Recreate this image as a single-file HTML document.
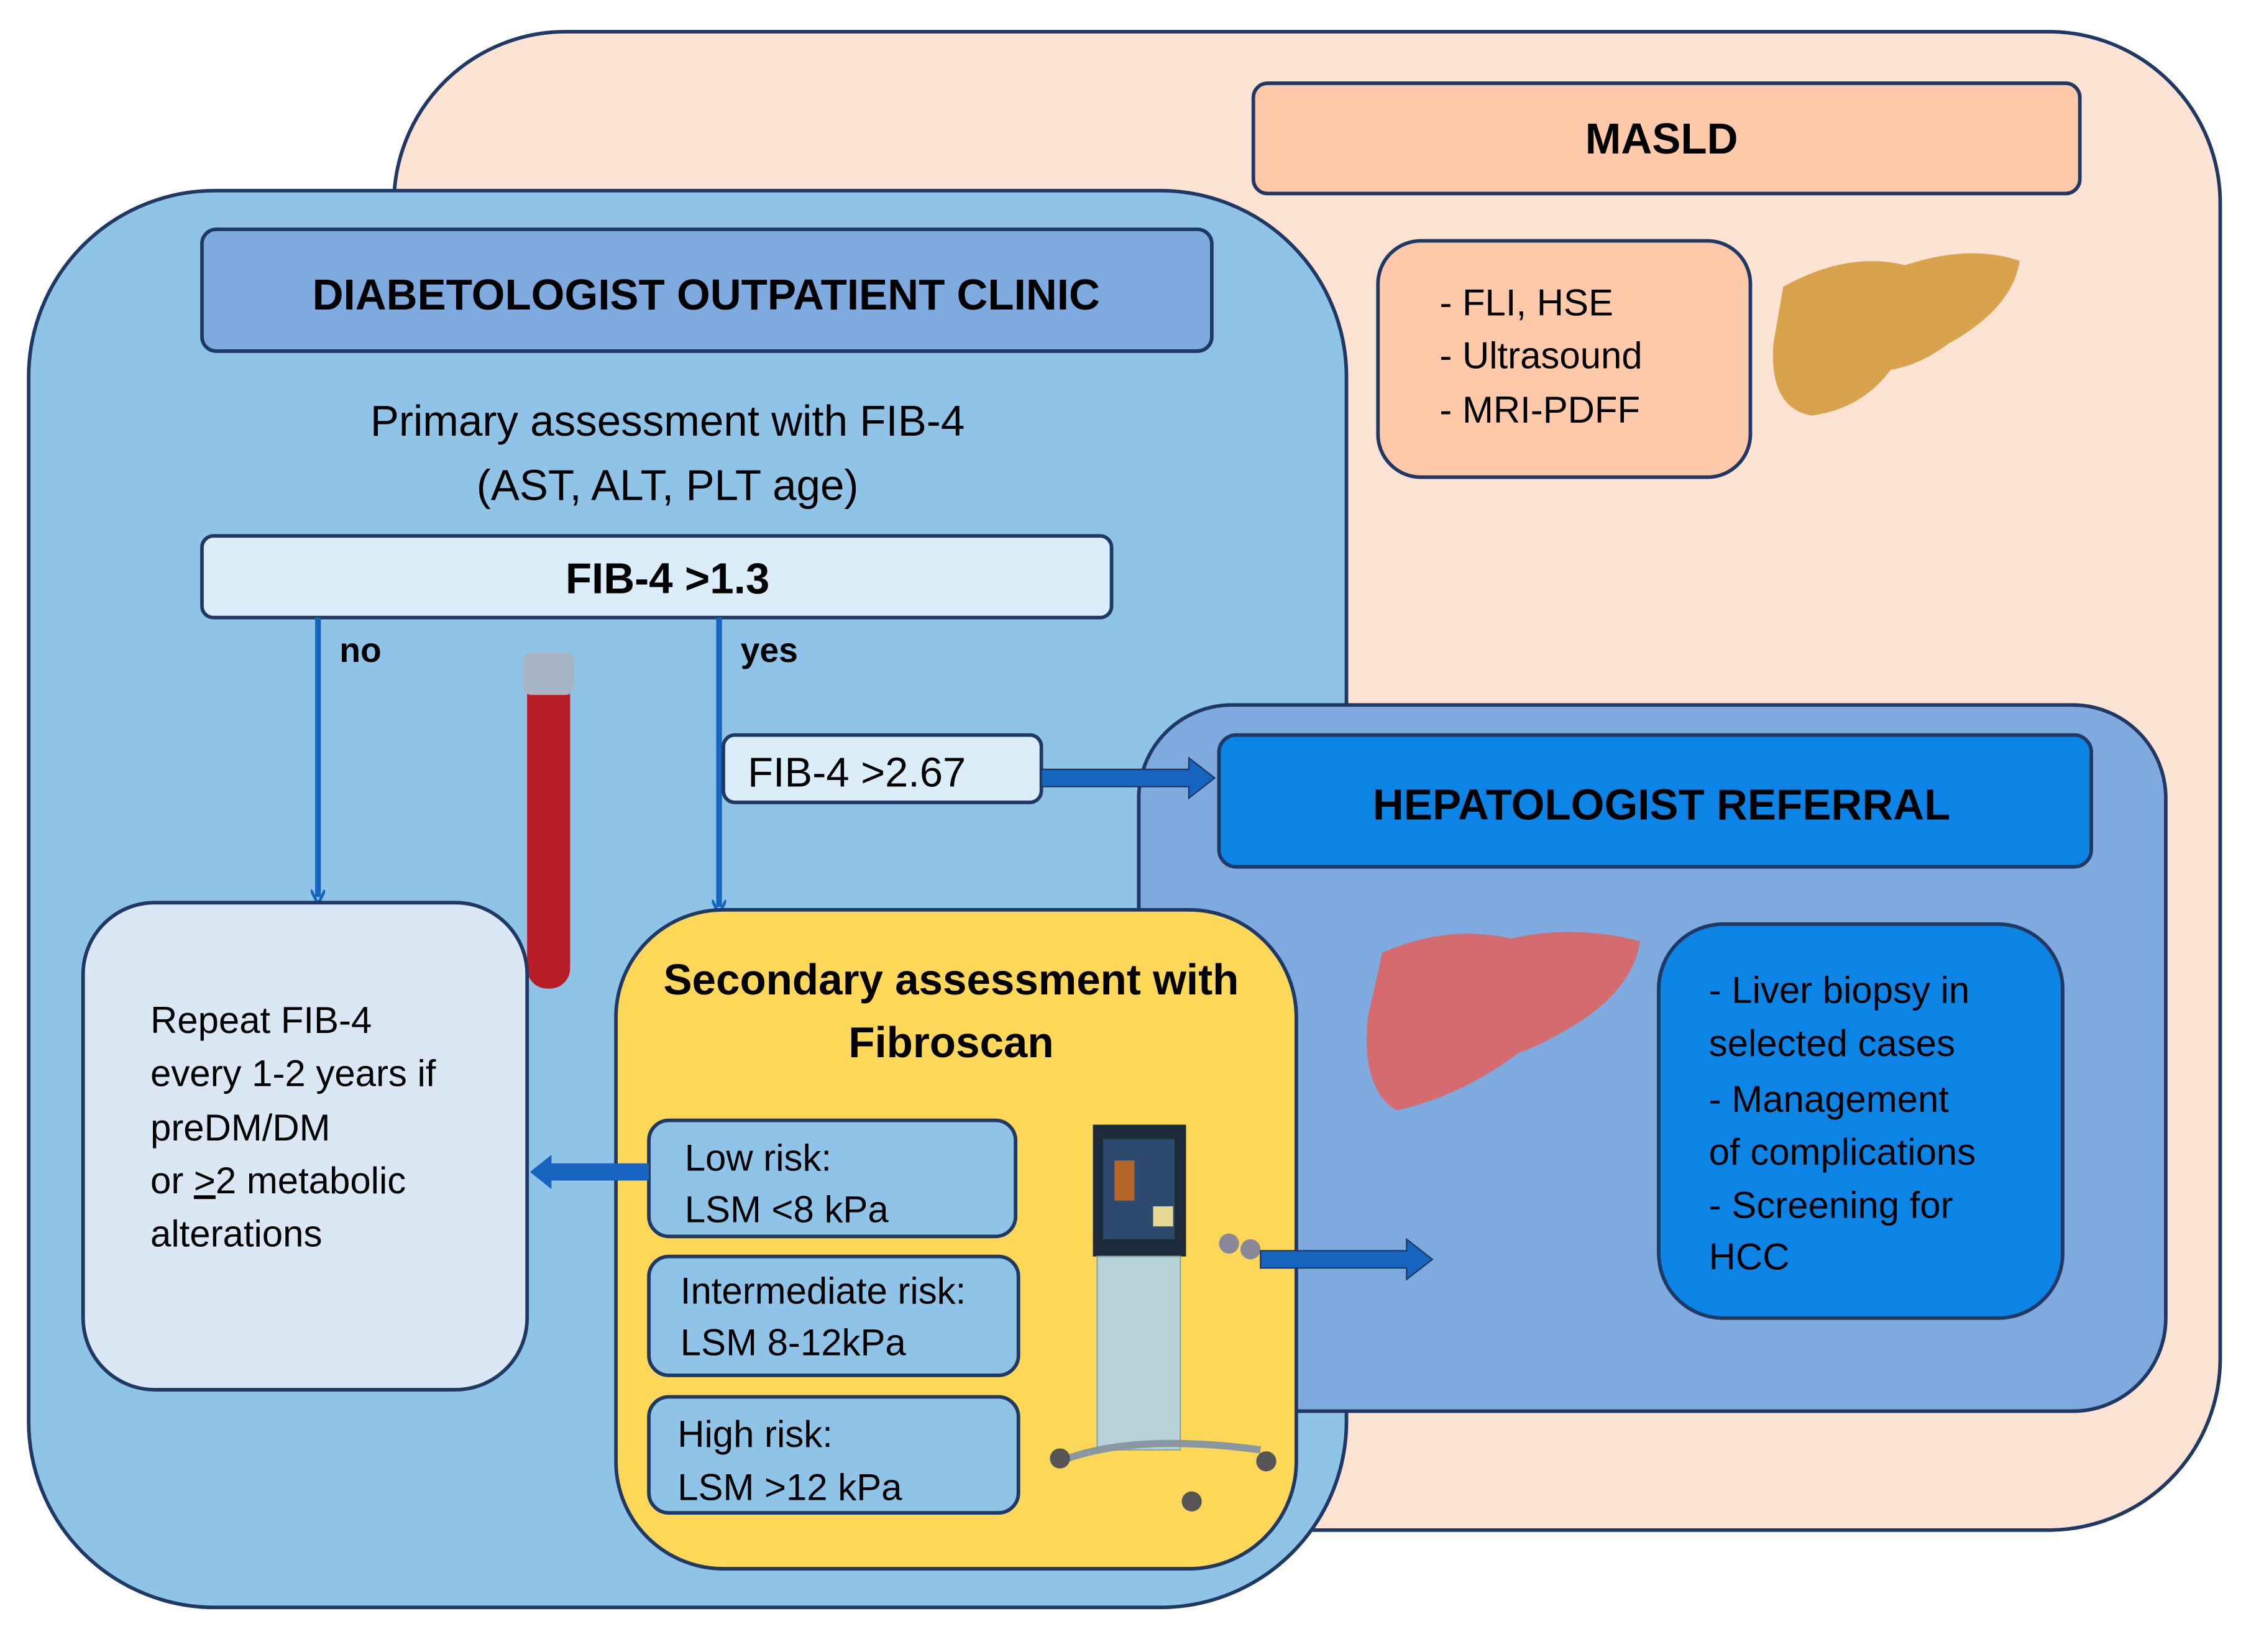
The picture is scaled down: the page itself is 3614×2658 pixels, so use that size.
<!DOCTYPE html>
<html><head><meta charset="utf-8"><style>
html,body{margin:0;padding:0;background:#fff}
svg{display:block}
text{font-family:"Liberation Sans","DejaVu Sans",sans-serif;fill:#000}
.b{font-weight:bold}
</style></head><body>
<svg width="3614" height="2658" viewBox="0 0 1568 1153" xmlns="http://www.w3.org/2000/svg">
<defs>
<marker id="ah" markerWidth="10" markerHeight="10" refX="5" refY="5" orient="auto" markerUnits="userSpaceOnUse"><path d="M0,0 L10,5 L0,10" fill="none" stroke="#1565c0" stroke-width="2"/></marker>
</defs>
<!-- MASLD background -->
<rect x="275" y="22" width="1275" height="1046" rx="120" fill="#fde3d4" stroke="#1f3864" stroke-width="2.5"/>
<rect x="875" y="58" width="577" height="77" rx="10" fill="#fdc9a9" stroke="#1f3864" stroke-width="2.5"/>
<text x="1160" y="107" font-size="30" text-anchor="middle" class="b">MASLD</text>
<rect x="962" y="168" width="260" height="165" rx="30" fill="#fdc9a9" stroke="#1f3864" stroke-width="2.5"/>
<text x="1005" y="220" font-size="26">- FLI, HSE</text>
<text x="1005" y="257" font-size="26">- Ultrasound</text>
<text x="1005" y="295" font-size="26">- MRI-PDFF</text>
<!-- yellow liver -->
<path d="M1245,200 Q1290,175 1330,185 Q1375,170 1410,182 Q1405,215 1360,240 Q1340,255 1320,258 Q1300,285 1265,290 Q1235,285 1238,240 Z" fill="#d9a24c"/>
<!-- blue clinic -->
<rect x="20" y="133" width="920" height="989" rx="130" fill="#8fc3e7" stroke="#1f3864" stroke-width="2.5"/>
<rect x="141" y="160" width="705" height="85" rx="10" fill="#7eaae0" stroke="#1f3864" stroke-width="2.5"/>
<text x="493" y="216" font-size="30" text-anchor="middle" class="b">DIABETOLOGIST OUTPATIENT CLINIC</text>
<text x="466" y="304" font-size="30" text-anchor="middle">Primary assessment with FIB-4</text>
<text x="466" y="349" font-size="30" text-anchor="middle">(AST, ALT, PLT age)</text>
<!-- hepatologist -->
<rect x="795" y="492" width="717" height="493" rx="65" fill="#7faadf" stroke="#1f3864" stroke-width="2.5"/>
<rect x="851" y="513" width="609" height="92" rx="12" fill="#0b84e6" stroke="#1f3864" stroke-width="2.5"/>
<text x="1160" y="572" font-size="30" text-anchor="middle" class="b">HEPATOLOGIST  REFERRAL</text>
<rect x="1158" y="645" width="282" height="275" rx="45" fill="#0b84e6" stroke="#1f3864" stroke-width="2.5"/>
<text x="1193" y="700" font-size="26">- Liver biopsy in</text>
<text x="1193" y="737" font-size="26">selected cases</text>
<text x="1193" y="776" font-size="26">- Management</text>
<text x="1193" y="813" font-size="26">of complications</text>
<text x="1193" y="850" font-size="26">- Screening for</text>
<text x="1193" y="886" font-size="26">HCC</text>
<!-- pink liver -->
<path d="M965,665 Q1010,645 1055,655 Q1100,645 1145,657 Q1140,690 1100,715 Q1075,730 1060,735 Q1020,765 975,775 Q950,760 955,710 Z" fill="#d36b6f"/>
<!-- FIB-4 > 1.3 -->
<rect x="141" y="374" width="635" height="57" rx="8" fill="#dbedf9" stroke="#1f3864" stroke-width="2.5"/>
<text x="466" y="414" font-size="30" text-anchor="middle" class="b">FIB-4 &gt;1.3</text>
<!-- vertical arrows -->
<line x1="222" y1="431" x2="222" y2="626" stroke="#1565c0" stroke-width="4" marker-end="url(#ah)"/>
<line x1="502" y1="431" x2="502" y2="633" stroke="#1565c0" stroke-width="4" marker-end="url(#ah)"/>
<text x="237" y="462" font-size="24" class="b">no</text>
<text x="517" y="462" font-size="24" class="b">yes</text>
<!-- test tube -->
<rect x="368" y="470" width="30" height="220" rx="14" fill="#b81c24"/>
<rect x="365" y="455" width="36" height="30" rx="6" fill="#a7b6c4"/>
<!-- FIB-4 > 2.67 -->
<rect x="505" y="513" width="222" height="47" rx="8" fill="#dbedf9" stroke="#1f3864" stroke-width="2.5"/>
<text x="522" y="549" font-size="29">FIB-4 &gt;2.67</text>
<path d="M727,537 L830,537 L830,529 L848,543 L830,557 L830,549 L727,549 Z" fill="#1565c0" stroke="#1f3864" stroke-width="1"/>
<!-- left box -->
<rect x="58" y="630" width="310" height="340" rx="50" fill="#dbe7f5" stroke="#1f3864" stroke-width="2.5"/>
<text x="105" y="721" font-size="26">Repeat FIB-4</text>
<text x="105" y="758" font-size="26">every 1-2 years if</text>
<text x="105" y="796" font-size="26">preDM/DM</text>
<text x="105" y="833" font-size="26">or <tspan text-decoration="underline">&gt;</tspan>2 metabolic</text>
<text x="105" y="870" font-size="26">alterations</text>
<!-- yellow box -->
<rect x="430" y="635" width="475" height="460" rx="75" fill="#fdd757" stroke="#1f3864" stroke-width="2.5"/>
<text x="664" y="694" font-size="30" text-anchor="middle" class="b">Secondary assessment with</text>
<text x="664" y="738" font-size="30" text-anchor="middle" class="b">Fibroscan</text>
<rect x="453" y="782" width="256" height="81" rx="14" fill="#8fc3e7" stroke="#1f3864" stroke-width="2.5"/>
<text x="478" y="817" font-size="26">Low risk:</text>
<text x="478" y="853" font-size="26">LSM &lt;8 kPa</text>
<rect x="453" y="877" width="258" height="83" rx="14" fill="#8fc3e7" stroke="#1f3864" stroke-width="2.5"/>
<text x="475" y="910" font-size="26">Intermediate risk:</text>
<text x="475" y="946" font-size="26">LSM 8-12kPa</text>
<rect x="453" y="975" width="258" height="81" rx="14" fill="#8fc3e7" stroke="#1f3864" stroke-width="2.5"/>
<text x="473" y="1010" font-size="26">High risk:</text>
<text x="473" y="1047" font-size="26">LSM &gt;12 kPa</text>
<!-- arrow low risk to left -->
<path d="M453,812 L385,812 L385,806 L370,818 L385,830 L385,824 L453,824 Z" fill="#1565c0"/>
<!-- fibroscan device -->
<rect x="763" y="785" width="65" height="92" fill="#1d2a3a"/>
<rect x="770" y="795" width="50" height="70" fill="#2c4a6e"/>
<rect x="778" y="810" width="14" height="28" fill="#b5642a"/>
<rect x="805" y="842" width="14" height="14" fill="#e6d792"/>
<rect x="766" y="877" width="58" height="135" fill="#b7d2da" stroke="#8aa" stroke-width="1"/>
<path d="M740,1020 Q790,1000 880,1012" fill="none" stroke="#8a96a0" stroke-width="5"/>
<circle cx="740" cy="1018" r="7" fill="#555"/><circle cx="832" cy="1048" r="7" fill="#555"/><circle cx="884" cy="1020" r="7" fill="#555"/>
<circle cx="858" cy="868" r="7" fill="#889"/><circle cx="873" cy="872" r="7" fill="#889"/>
<!-- right arrow -->
<path d="M880,873 L982,873 L982,865 L1000,879 L982,893 L982,885 L880,885 Z" fill="#1565c0" stroke="#1f3864" stroke-width="1"/>
</svg>
</body></html>
